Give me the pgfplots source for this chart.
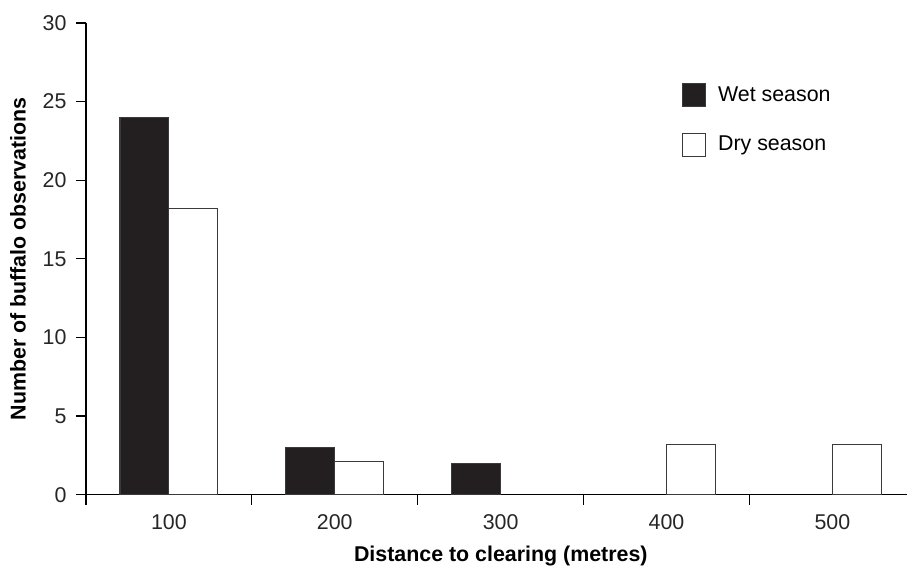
\documentclass[border=0pt]{standalone}
\usepackage{fontspec}
\setmainfont{Liberation Sans}
\usepackage{pgfplots}
\pgfplotsset{compat=1.18}
\definecolor{barblack}{HTML}{231F20}
\definecolor{edgegrey}{HTML}{3A3A3A}

\begin{document}
\begin{tikzpicture}
\fontsize{10.7}{12.8}\selectfont
\begin{axis}[
	scale only axis,
	width=411pt, height=236pt,
	xmin=0.5, xmax=5.452,
	ymin=0, ymax=30,
	axis x line*=bottom,
	axis y line*=left,
	axis line style={line width=0.6pt, black},
	xtick={1,2,3,4,5},
	xticklabels={100,200,300,400,500},
	minor xtick={0.5,1.5,2.5,3.5,4.5},
	major x tick style={draw=none},
	minor x tick style={line width=0.6pt, black},
	ytick={0,5,...,30},
	y tick style={line width=0.6pt, black},
	tick align=outside,
	major tick length=5pt,
	minor tick length=5pt,
	/pgf/number format/assume math mode=true,
	tick label style={font=\fontsize{10.7}{12.8}\selectfont, text=black!85},
	xticklabel style={yshift=-1pt},
	yticklabel style={xshift=-1pt},
	xlabel={\textbf{Distance to clearing (metres)}},
	ylabel={\textbf{Number of buffalo observations}},
	every axis x label/.style={at={(axis description cs:0.505,-0.1292)}, anchor=center},
	every axis y label/.style={at={(axis description cs:-0.0827,0.5)}, rotate=90, anchor=center},
	label style={font=\fontsize{10.7}{12.8}\selectfont},
	ybar, bar width=0.295,
	legend style={draw=none, fill=none, inner sep=0pt,
		at={(axis description cs:0.725,0.875)}, anchor=north west,
		row sep=12pt, font=\fontsize{10.7}{12.8}\selectfont},
	legend cell align=left,
	legend image code/.code={\draw[#1] (0pt,-5.75pt) rectangle (11.5pt,5.75pt);
		\path (15.5pt,0pt);},
	]
	\addplot[bar shift=-0.1475, fill=barblack, draw=edgegrey, line width=0.6pt]
		coordinates {(1,24) (2,3) (3,2)};
	\addlegendentry{Wet season}
	\addplot[bar shift=0.1475, fill=white, draw=edgegrey, line width=0.6pt]
		coordinates {(1,18.2) (2,2.1) (4,3.2) (5,3.2)};
	\addlegendentry{Dry season}
\end{axis}
\path[use as bounding box] (-43pt,-35pt) rectangle (411pt,247.5pt);
\end{tikzpicture}
\end{document}
